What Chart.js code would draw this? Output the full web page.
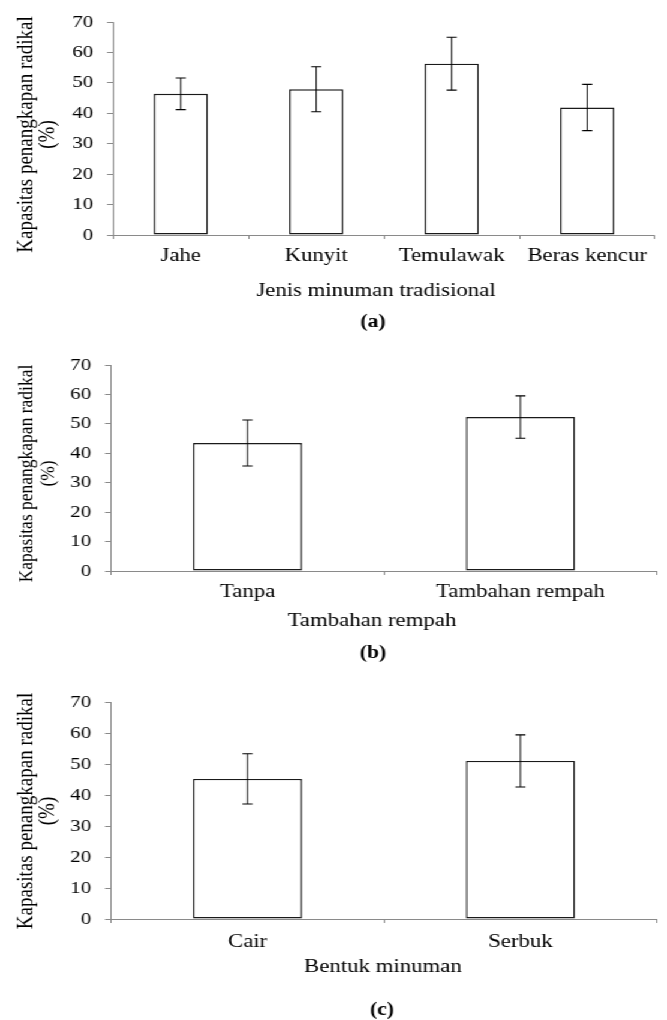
<!DOCTYPE html>
<html>
<head>
<meta charset="utf-8">
<script src="https://cdn.jsdelivr.net/npm/chart.js@4.4.1/dist/chart.umd.min.js"></script>
<style>
  html, body { margin: 0; padding: 0; background: #fff; overflow: hidden; }
  /* the source figure is stretched sideways, so the charts are drawn narrow and widened */
  #stage { position: absolute; left: 0; top: 0; width: 556px; height: 1020px;
           transform: scaleX(1.1996); transform-origin: 0 0; }
  #stage canvas { position: absolute; left: 0; }
</style>
</head>
<body>
<div id="stage">
  <canvas id="chartA" width="556" height="340" style="top:0px"></canvas>
  <canvas id="chartB" width="556" height="340" style="top:340px"></canvas>
  <canvas id="chartC" width="556" height="340" style="top:680px"></canvas>
</div>
<script>
const drinkTypes = ['Jahe', 'Kunyit', 'Temulawak', 'Beras kencur'];
const drinkValues = [46.4, 47.9, 56.3, 41.9];
const drinkErrors = [5.2, 7.4, 8.7, 7.6];

const spiceGroups = ['Tanpa', 'Tambahan rempah'];
const spiceValues = [43.5, 52.3];
const spiceErrors = [7.8, 7.2];

const formGroups = ['Cair', 'Serbuk'];
const formValues = [45.2, 51.0];
const formErrors = [8.1, 8.4];

const yTickValues = [0, 10, 20, 30, 40, 50, 60, 70];
const yTitle = ['Kapasitas penangkapan radikal', '(%)'];

const CW = 556;
const SX = 667 / CW;
const FONT = '"Liberation Serif", "Times New Roman", serif';
const AXIS_GREY = '#8a8a8a';

const errorBars = {
  id: 'errorBars',
  afterDatasetsDraw(chart, args, opts) {
    const ctx = chart.ctx;
    const y = chart.scales.y;
    const vals = chart.data.datasets[0].data;
    chart.getDatasetMeta(0).data.forEach((bar, i) => {
      const hi = y.getPixelForValue(vals[i] + opts.errors[i]);
      const lo = y.getPixelForValue(vals[i] - opts.errors[i]);
      ctx.save();
      ctx.strokeStyle = '#000';
      ctx.lineWidth = 0.9;
      ctx.beginPath();
      ctx.moveTo(bar.x, hi);
      ctx.lineTo(bar.x, lo);
      ctx.stroke();
      ctx.lineWidth = 1.1;
      ctx.beginPath();
      ctx.moveTo(bar.x - opts.cap, hi);
      ctx.lineTo(bar.x + opts.cap, hi);
      ctx.moveTo(bar.x - opts.cap, lo);
      ctx.lineTo(bar.x + opts.cap, lo);
      ctx.stroke();
      ctx.restore();
    });
  }
};

// axis titles and the panel caption sit slightly off-centre in the source, so place them by hand
const figureText = {
  id: 'figureText',
  afterDraw(chart, args, o) {
    const ctx = chart.ctx;
    ctx.save();
    ctx.fillStyle = '#000';
    ctx.textAlign = 'center';
    ctx.textBaseline = 'middle';
    ctx.font = o.yTitleSize + 'px ' + FONT;
    yTitle.forEach((line, i) => {
      ctx.save();
      ctx.translate(o.yTitleX[i] / SX, o.yTitleY);
      ctx.rotate(-Math.PI / 2);
      ctx.fillText(line, 0, 0);
      ctx.restore();
    });
    ctx.font = '19px ' + FONT;
    ctx.fillText(o.xTitle, o.xTitleX / SX, o.xTitleY);
    ctx.font = 'bold 18px ' + FONT;
    ctx.fillText(o.caption, o.capX / SX, o.capY);
    ctx.restore();
  }
};

// g: plot box and text spots in page pixels, relative to the canvas top
function makeChart(id, labels, values, errors, xTitle, caption, g) {
  const fs = 19, lh = fs * 1.2;
  const tickLen = 4;
  const xPad = g.labelY - g.bottom - tickLen - lh / 2;
  const xScaleH = tickLen + xPad + lh;

  return new Chart(document.getElementById(id), {
    type: 'bar',
    data: {
      labels: labels,
      datasets: [{
        data: values,
        backgroundColor: '#ffffff',
        borderColor: '#1a1a1a',
        borderWidth: 1.4,
        borderSkipped: false,
        barPercentage: 0.4,
        categoryPercentage: 1.0
      }]
    },
    options: {
      responsive: false,
      animation: false,
      layout: {
        padding: { top: g.top, left: 0, right: CW - g.right / SX, bottom: 340 - g.bottom - xScaleH }
      },
      plugins: {
        legend: { display: false },
        tooltip: { enabled: false },
        title: { display: false },
        errorBars: { errors: errors, cap: 4.2 },
        figureText: {
          xTitle: xTitle, caption: caption,
          yTitleSize: g.yTitleSize, yTitleX: [26.5, 48], yTitleY: g.yTitleY,
          xTitleX: g.xTitleX, xTitleY: g.xTitleY, capX: g.capX, capY: g.capY
        }
      },
      scales: {
        x: {
          offset: true,
          grid: { offset: true, drawOnChartArea: false, drawTicks: true, tickLength: tickLen, color: AXIS_GREY },
          border: { display: true, color: AXIS_GREY, width: 1 },
          ticks: { color: '#000', font: { family: FONT, size: fs }, padding: xPad, maxRotation: 0, autoSkip: false },
          afterFit(scale) { scale.height = xScaleH; }
        },
        y: {
          min: 0,
          max: 70,
          afterBuildTicks(scale) { scale.ticks = yTickValues.map(v => ({ value: v })); },
          grid: { drawOnChartArea: false, drawTicks: true, tickLength: 5, color: AXIS_GREY },
          border: { display: true, color: AXIS_GREY, width: 1 },
          ticks: { color: '#000', font: { family: FONT, size: 17.5 }, padding: 11.5 },
          afterFit(scale) { scale.width = g.left / SX; }
        }
      }
    },
    plugins: [errorBars, figureText]
  });
}

makeChart('chartA', drinkTypes, drinkValues, drinkErrors, 'Jenis minuman tradisional', '(a)',
  { top: 19, bottom: 235, left: 113, right: 655, labelY: 256, yTitleSize: 19, yTitleY: 134.5,
    xTitleX: 376, xTitleY: 291, capX: 373, capY: 322 });
makeChart('chartB', spiceGroups, spiceValues, spiceErrors, 'Tambahan rempah', '(b)',
  { top: 25, bottom: 231, left: 111, right: 657, labelY: 252, yTitleSize: 17.5, yTitleY: 133.5,
    xTitleX: 372, xTitleY: 281, capX: 373, capY: 313 });
makeChart('chartC', formGroups, formValues, formErrors, 'Bentuk minuman', '(c)',
  { top: 12, bottom: 239, left: 111, right: 657, labelY: 262, yTitleSize: 19, yTitleY: 131,
    xTitleX: 383, xTitleY: 287, capX: 382, capY: 330 });
</script>
</body>
</html>
